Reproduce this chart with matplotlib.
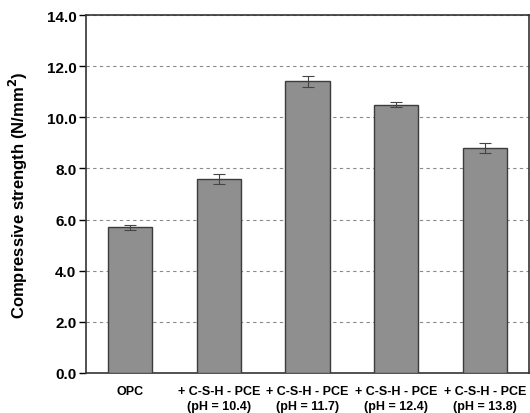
import matplotlib
matplotlib.use("Agg")
import matplotlib.pyplot as plt
import numpy as np

plt.rcParams['font.family'] = ['Liberation Sans', 'DejaVu Sans']

categories = ["OPC",
              "+ C-S-H - PCE\n(pH = 10.4)",
              "+ C-S-H - PCE\n(pH = 11.7)",
              "+ C-S-H - PCE\n(pH = 12.4)",
              "+ C-S-H - PCE\n(pH = 13.8)"]
strength = [5.7, 7.6, 11.4, 10.5, 8.8]
strength_err = [0.1, 0.2, 0.2, 0.1, 0.2]
yticks = [0.0, 2.0, 4.0, 6.0, 8.0, 10.0, 12.0, 14.0]

fig = plt.figure(figsize=(5.30, 4.14), dpi=100)
ax = fig.add_axes([86/530, 40/414, (529-86)/530, (374-16)/414])

x = np.arange(len(categories))
ax.bar(x, strength, width=0.5, color="#8f8f8f", edgecolor="#3c3c3c",
       linewidth=1.0, zorder=3)
ax.errorbar(x, strength, yerr=strength_err, fmt="none", ecolor="#444444",
            elinewidth=0.8, capsize=4, capthick=0.8, zorder=4)

ax.set_xlim(-0.5, 4.5)
ax.set_ylim(0, 14)
ax.set_yticks(yticks)
ax.set_yticklabels([f"{v:.1f}" for v in yticks], fontsize=11, fontweight="bold")
ax.set_xticks(x)
ax.set_xticklabels(categories, fontsize=9, fontweight="bold", linespacing=1.3)
ax.tick_params(axis="x", length=0, pad=9)
ax.tick_params(axis="y", length=5, width=1.0, direction="out", pad=2)
ax.set_ylabel("Compressive strength (N/mm$^\\mathbf{2}$)", fontsize=12,
              fontweight="bold", labelpad=12)

ax.grid(axis="y", linestyle=(0, (3, 3)), color="#8a8a8a", linewidth=0.8, zorder=0)
for s in ax.spines.values():
    s.set_color("#333333")
    s.set_linewidth(1.2)

fig.savefig("out.png", dpi=100)
